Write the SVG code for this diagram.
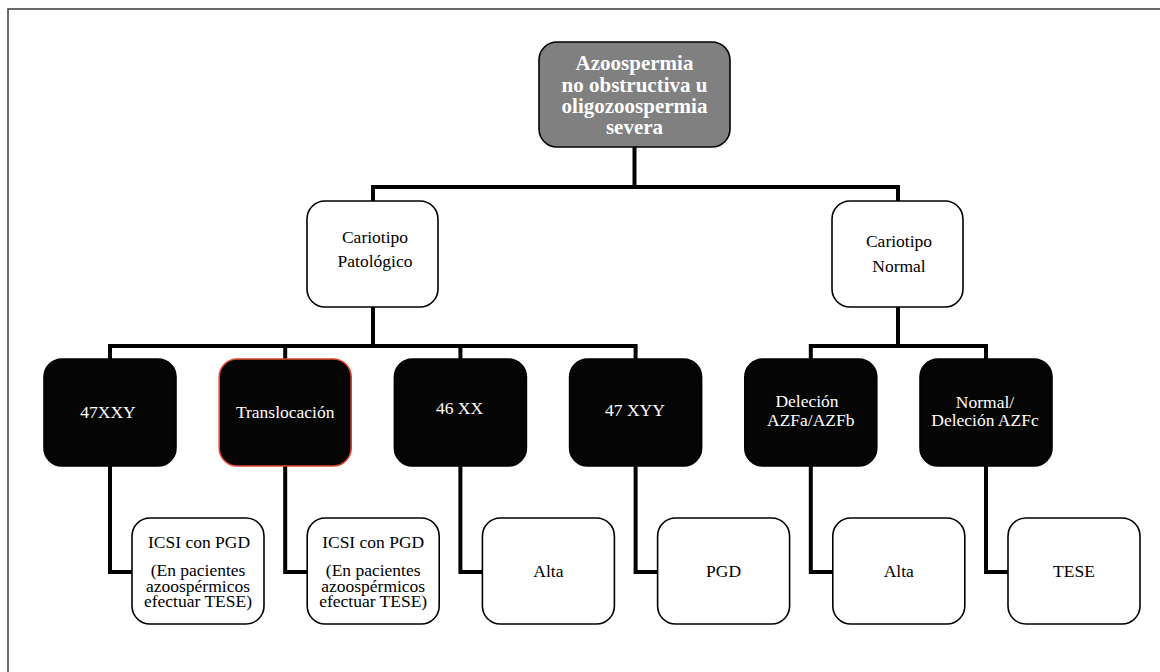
<svg xmlns="http://www.w3.org/2000/svg" width="1160" height="672" viewBox="0 0 1160 672">
<style>
.frame{fill:none;stroke:#3a3a3a;stroke-width:1.5}
.conn{fill:none;stroke:#000;stroke-width:4;stroke-linejoin:miter}
.white{fill:#fff;stroke:#000;stroke-width:1.6}
.black{fill:#050505;stroke:#000;stroke-width:1.6}
.red{fill:#050505;stroke:#e0452e;stroke-width:1.6}
.top{fill:#808080;stroke:#000;stroke-width:1.6}
text{font-family:"Liberation Serif","Times New Roman",serif;font-size:17.5px;text-anchor:middle}
.tw{fill:#fff}
.tb{fill:#000}
.title{font-size:21px;font-weight:bold;fill:#fff}
</style>
<rect x="0" y="0" width="1160" height="672" fill="#fff"/>
<path class="frame" d="M8 672 V9 H1160"/>
<g id="connectors">
  <path class="conn" d="M634.5 147 V187 M373 187 H898 M373 185 V201 M898 185 V201"/>
  <path class="conn" d="M373 307 V346 M110 346 H635.6 M110 344 V359 M285.2 344 V359 M460.4 344 V359 M635.6 344 V359"/>
  <path class="conn" d="M898 307 V346 M810.8 346 H986 M810.8 344 V359 M986 344 V359"/>
  <path class="conn" d="M110 466 V572 H132"/>
  <path class="conn" d="M285.2 466 V572 H307.2"/>
  <path class="conn" d="M460.4 466 V572 H482.4"/>
  <path class="conn" d="M635.6 466 V572 H657.6"/>
  <path class="conn" d="M810.8 466 V572 H832.8"/>
  <path class="conn" d="M986 466 V572 H1008"/>
</g>
<g id="n-root">
  <rect class="top" x="539" y="42" width="191" height="105" rx="18"/>
  <text class="title"><tspan x="634.5" y="70">Azoospermia</tspan><tspan x="634.5" y="91.5">no obstructiva u</tspan><tspan x="634.5" y="112.8">oligozoospermia</tspan><tspan x="634.5" y="134">severa</tspan></text>
</g>
<g id="n-patologico">
  <rect class="white" x="307" y="201" width="131" height="106" rx="18"/>
  <text class="tb"><tspan x="375" y="243">Cariotipo</tspan><tspan x="375" y="267">Patológico</tspan></text>
</g>
<g id="n-normal">
  <rect class="white" x="832" y="201" width="131" height="106" rx="18"/>
  <text class="tb"><tspan x="899" y="246.5">Cariotipo</tspan><tspan x="899" y="272">Normal</tspan></text>
</g>
<g id="n-47xxy">
  <rect class="black" x="44" y="359" width="132" height="107" rx="18"/>
  <text class="tw" x="108" y="418">47XXY</text>
</g>
<g id="n-translocacion">
  <rect class="red" x="219.2" y="359" width="132" height="107" rx="18"/>
  <text class="tw" x="285.2" y="418">Translocación</text>
</g>
<g id="n-46xx">
  <rect class="black" x="394.4" y="359" width="132" height="107" rx="18"/>
  <text class="tw" x="459.5" y="414">46 XX</text>
</g>
<g id="n-47xyy">
  <rect class="black" x="569.6" y="359" width="132" height="107" rx="18"/>
  <text class="tw" x="635" y="416">47 XYY</text>
</g>
<g id="n-delecion">
  <rect class="black" x="744.8" y="359" width="132" height="107" rx="18"/>
  <text class="tw"><tspan x="807" y="407">Deleción</tspan><tspan x="810.8" y="426">AZFa/AZFb</tspan></text>
</g>
<g id="n-normal-azfc">
  <rect class="black" x="920" y="359" width="132" height="107" rx="18"/>
  <text class="tw"><tspan x="985" y="408">Normal/</tspan><tspan x="985" y="426">Deleción AZFc</tspan></text>
</g>
<g id="n-icsi1">
  <rect class="white" x="132" y="518" width="132" height="106" rx="18"/>
  <text class="tb"><tspan x="199" y="548">ICSI con PGD</tspan><tspan x="198" y="576">(En pacientes</tspan><tspan x="198" y="591.7">azoospérmicos</tspan><tspan x="198" y="607.3">efectuar TESE)</tspan></text>
</g>
<g id="n-icsi2">
  <rect class="white" x="307.2" y="518" width="132" height="106" rx="18"/>
  <text class="tb"><tspan x="373.2" y="548">ICSI con PGD</tspan><tspan x="373.2" y="576">(En pacientes</tspan><tspan x="373.2" y="591.7">azoospérmicos</tspan><tspan x="373.2" y="607.3">efectuar TESE)</tspan></text>
</g>
<g id="n-alta1">
  <rect class="white" x="482.4" y="518" width="132" height="106" rx="18"/>
  <text class="tb" x="548.4" y="577">Alta</text>
</g>
<g id="n-pgd">
  <rect class="white" x="657.6" y="518" width="132" height="106" rx="18"/>
  <text class="tb" x="723.6" y="577">PGD</text>
</g>
<g id="n-alta2">
  <rect class="white" x="832.8" y="518" width="132" height="106" rx="18"/>
  <text class="tb" x="898.8" y="577">Alta</text>
</g>
<g id="n-tese">
  <rect class="white" x="1008" y="518" width="132" height="106" rx="18"/>
  <text class="tb" x="1074" y="577">TESE</text>
</g>
</svg>
